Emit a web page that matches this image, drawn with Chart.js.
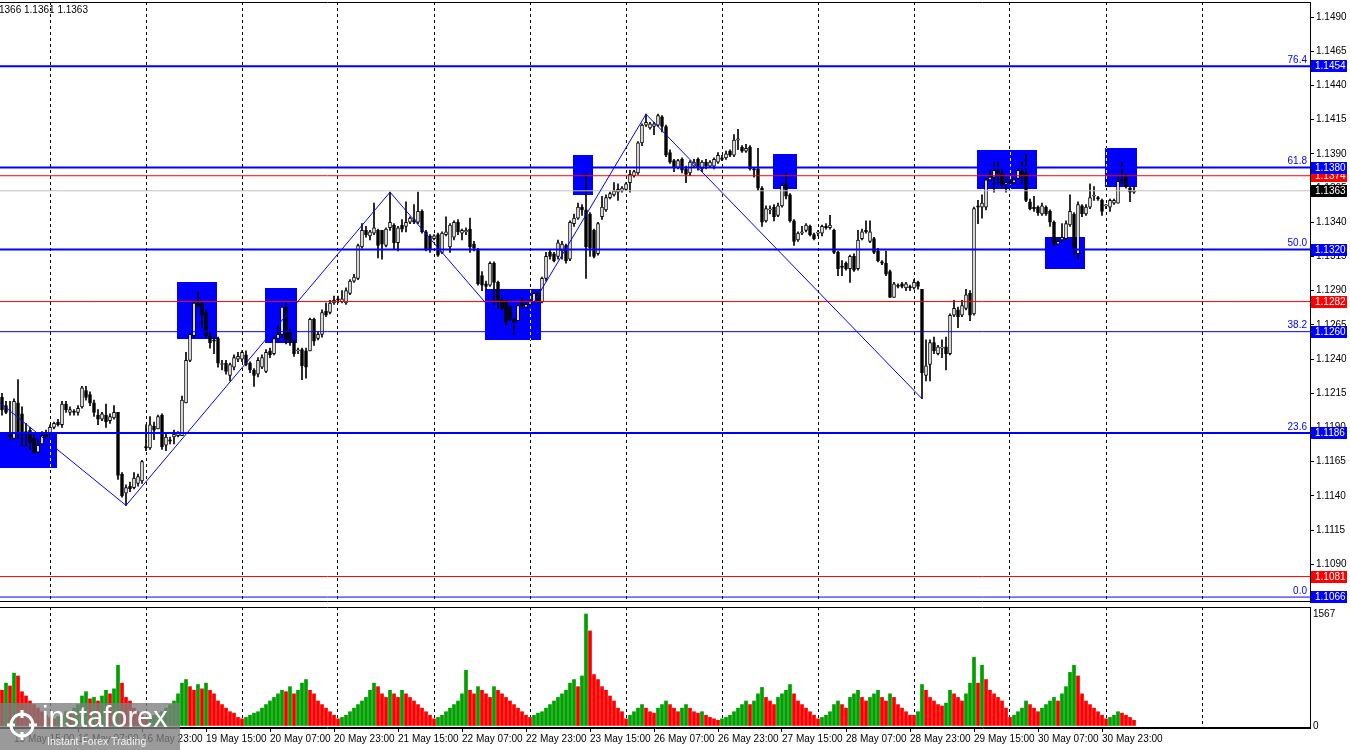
<!DOCTYPE html>
<html><head><meta charset="utf-8">
<script src="https://cdn.jsdelivr.net/npm/chart.js@4.4.1/dist/chart.umd.min.js"></script>
<style>
html,body{margin:0;padding:0;background:#fff;width:1350px;height:750px;overflow:hidden}
#wrap{position:relative;width:1350px;height:750px}
canvas{position:absolute;left:0;top:0}
#hdr{position:absolute;left:-1px;top:4px;font:10px 'Liberation Sans',Arial,sans-serif;color:#000;white-space:nowrap}
#wm{position:absolute;left:0;top:703px;width:180px;height:47px;background:rgba(125,125,125,0.78);overflow:hidden}
#wm .big{position:absolute;left:42px;top:-2px;font:29px 'Liberation Sans',Arial,sans-serif;color:#fff;letter-spacing:0px}
#wm .small{position:absolute;left:47px;top:32px;font:10.5px 'Liberation Sans',Arial,sans-serif;color:#f2f2f2}
#wm svg{position:absolute;left:4px;top:4px}
</style></head>
<body><div id="wrap">
<canvas id="cp" width="1350" height="750"></canvas>
<canvas id="cv" width="1350" height="750"></canvas>
<div id="hdr">1366 1.1361 1.1363</div>
<div id="wm"><svg width="36" height="36" viewBox="0 0 36 36"><g fill="none" stroke="#fff" stroke-width="3"><circle cx="18" cy="18" r="11"/><path d="M18 3v8M18 25v8M3 18h8M25 18h8"/></g></svg><span class="big">instaforex</span><span class="small">Instant Forex Trading</span></div>
</div>
<script>
const open = [1.1212,1.1206,1.1186,1.1182,1.1208,1.1200,1.1187,1.1188,1.1182,1.1172,
1.1178,1.1185,1.1185,1.1190,1.1194,1.1192,1.1207,1.1201,1.1202,1.1201,
1.1205,1.1217,1.1214,1.1208,1.1199,1.1196,1.1199,1.1195,1.1197,1.1201,
1.1156,1.1142,1.1147,1.1146,1.1149,1.1151,1.1176,1.1175,1.1191,1.1189,
1.1199,1.1177,1.1181,1.1183,1.1184,1.1184,1.1208,1.1239,1.1257,1.1281,
1.1281,1.1274,1.1257,1.1254,1.1255,1.1236,1.1237,1.1228,1.1234,1.1240,
1.1240,1.1243,1.1237,1.1232,1.1229,1.1234,1.1231,1.1246,1.1244,1.1255,
1.1258,1.1278,1.1260,1.1253,1.1246,1.1247,1.1246,1.1246,1.1269,1.1255,
1.1258,1.1275,1.1274,1.1281,1.1284,1.1282,1.1281,1.1288,1.1297,1.1299,
1.1322,1.1334,1.1330,1.1332,1.1334,1.1334,1.1323,1.1336,1.1338,1.1325,
1.1338,1.1337,1.1340,1.1342,1.1340,1.1348,1.1333,1.1330,1.1328,1.1331,
1.1318,1.1331,1.1322,1.1329,1.1340,1.1332,1.1333,1.1335,1.1324,1.1320,
1.1301,1.1295,1.1294,1.1310,1.1296,1.1283,1.1283,1.1278,1.1269,1.1268,
1.1281,1.1278,1.1280,1.1282,1.1288,1.1282,1.1299,1.1318,1.1317,1.1315,
1.1319,1.1323,1.1313,1.1339,1.1343,1.1351,1.1349,1.1346,1.1334,1.1317,
1.1344,1.1349,1.1358,1.1360,1.1362,1.1363,1.1364,1.1369,1.1374,1.1376,
1.1398,1.1411,1.1409,1.1410,1.1411,1.1417,1.1410,1.1391,1.1385,1.1380,
1.1386,1.1379,1.1376,1.1381,1.1386,1.1379,1.1384,1.1381,1.1381,1.1384,
1.1387,1.1387,1.1392,1.1389,1.1400,1.1395,1.1392,1.1395,1.1379,1.1379,
1.1365,1.1341,1.1349,1.1351,1.1345,1.1352,1.1368,1.1360,1.1341,1.1327,
1.1332,1.1334,1.1337,1.1331,1.1332,1.1332,1.1337,1.1336,1.1334,1.1318,
1.1308,1.1310,1.1306,1.1315,1.1306,1.1328,1.1334,1.1326,1.1328,1.1319,
1.1311,1.1310,1.1304,1.1285,1.1294,1.1295,1.1292,1.1293,1.1292,1.1296,
1.1291,1.1228,1.1236,1.1252,1.1244,1.1248,1.1249,1.1244,1.1272,1.1276,
1.1272,1.1277,1.1288,1.1273,1.1352,1.1351,1.1351,1.1371,1.1373,1.1378,
1.1376,1.1368,1.1370,1.1369,1.1372,1.1377,1.1376,1.1355,1.1351,1.1351,
1.1346,1.1351,1.1348,1.1340,1.1324,1.1327,1.1328,1.1338,1.1346,1.1317,
1.1352,1.1346,1.1351,1.1359,1.1358,1.1356,1.1352,1.1351,1.1354,1.1354,
1.1371,1.1373,1.1365,1.1362];
const high = [1.1215,1.1209,1.1209,1.1211,1.1225,1.1205,1.1193,1.1190,1.1185,1.1181,
1.1187,1.1188,1.1192,1.1194,1.1196,1.1209,1.1209,1.1205,1.1203,1.1206,
1.1220,1.1220,1.1216,1.1210,1.1203,1.1201,1.1207,1.1200,1.1206,1.1201,
1.1157,1.1148,1.1150,1.1157,1.1156,1.1166,1.1192,1.1198,1.1194,1.1199,
1.1200,1.1185,1.1183,1.1188,1.1187,1.1213,1.1245,1.1259,1.1282,1.1289,
1.1282,1.1276,1.1260,1.1256,1.1256,1.1239,1.1239,1.1237,1.1243,1.1245,
1.1246,1.1246,1.1238,1.1233,1.1241,1.1243,1.1247,1.1248,1.1256,1.1265,
1.1278,1.1281,1.1262,1.1254,1.1248,1.1248,1.1248,1.1270,1.1270,1.1260,
1.1276,1.1281,1.1283,1.1286,1.1286,1.1290,1.1292,1.1298,1.1302,1.1324,
1.1339,1.1337,1.1334,1.1354,1.1335,1.1334,1.1336,1.1362,1.1339,1.1337,
1.1342,1.1355,1.1344,1.1353,1.1362,1.1349,1.1334,1.1331,1.1331,1.1332,
1.1333,1.1344,1.1339,1.1341,1.1342,1.1335,1.1336,1.1343,1.1326,1.1321,
1.1304,1.1297,1.1311,1.1311,1.1297,1.1285,1.1283,1.1279,1.1270,1.1280,
1.1285,1.1282,1.1283,1.1289,1.1289,1.1300,1.1318,1.1320,1.1318,1.1327,
1.1326,1.1324,1.1341,1.1346,1.1354,1.1353,1.1376,1.1347,1.1335,1.1340,
1.1359,1.1360,1.1362,1.1369,1.1368,1.1366,1.1369,1.1378,1.1378,1.1399,
1.1412,1.1419,1.1413,1.1413,1.1419,1.1418,1.1411,1.1393,1.1386,1.1386,
1.1387,1.1381,1.1385,1.1386,1.1387,1.1385,1.1386,1.1385,1.1387,1.1391,
1.1389,1.1392,1.1393,1.1404,1.1408,1.1396,1.1397,1.1396,1.1380,1.1394,
1.1366,1.1352,1.1352,1.1353,1.1354,1.1368,1.1376,1.1361,1.1342,1.1333,
1.1337,1.1339,1.1338,1.1332,1.1334,1.1338,1.1339,1.1345,1.1335,1.1319,
1.1312,1.1311,1.1316,1.1317,1.1334,1.1335,1.1341,1.1341,1.1329,1.1321,
1.1312,1.1319,1.1305,1.1296,1.1295,1.1296,1.1296,1.1294,1.1298,1.1297,
1.1291,1.1254,1.1254,1.1256,1.1250,1.1254,1.1256,1.1273,1.1283,1.1278,
1.1283,1.1291,1.1290,1.1351,1.1356,1.1360,1.1372,1.1378,1.1384,1.1384,
1.1379,1.1373,1.1371,1.1372,1.1379,1.1384,1.1390,1.1357,1.1359,1.1352,
1.1354,1.1352,1.1349,1.1341,1.1328,1.1339,1.1341,1.1360,1.1347,1.1355,
1.1353,1.1353,1.1368,1.1366,1.1359,1.1357,1.1353,1.1357,1.1357,1.1373,
1.1384,1.1375,1.1366,1.1366];
const low = [1.1199,1.1200,1.1181,1.1181,1.1182,1.1176,1.1176,1.1174,1.1171,1.1171,
1.1177,1.1182,1.1183,1.1189,1.1191,1.1190,1.1201,1.1199,1.1199,1.1199,
1.1204,1.1210,1.1206,1.1198,1.1192,1.1195,1.1190,1.1193,1.1196,1.1152,
1.1139,1.1133,1.1143,1.1145,1.1147,1.1149,1.1173,1.1174,1.1181,1.1189,
1.1174,1.1173,1.1178,1.1178,1.1183,1.1184,1.1208,1.1238,1.1256,1.1278,
1.1263,1.1256,1.1248,1.1244,1.1234,1.1232,1.1229,1.1224,1.1232,1.1238,
1.1238,1.1235,1.1230,1.1220,1.1227,1.1233,1.1230,1.1241,1.1243,1.1253,
1.1256,1.1251,1.1250,1.1242,1.1244,1.1225,1.1226,1.1246,1.1250,1.1254,
1.1256,1.1271,1.1273,1.1280,1.1281,1.1281,1.1280,1.1287,1.1296,1.1298,
1.1321,1.1329,1.1327,1.1331,1.1314,1.1313,1.1322,1.1334,1.1320,1.1319,
1.1333,1.1333,1.1339,1.1339,1.1339,1.1332,1.1319,1.1318,1.1327,1.1315,
1.1317,1.1330,1.1318,1.1327,1.1331,1.1327,1.1331,1.1318,1.1319,1.1294,
1.1290,1.1291,1.1293,1.1280,1.1277,1.1276,1.1263,1.1268,1.1257,1.1268,
1.1278,1.1277,1.1279,1.1281,1.1281,1.1281,1.1297,1.1313,1.1311,1.1313,
1.1313,1.1310,1.1312,1.1337,1.1342,1.1345,1.1299,1.1315,1.1314,1.1316,
1.1342,1.1348,1.1357,1.1359,1.1356,1.1362,1.1363,1.1362,1.1373,1.1375,
1.1396,1.1410,1.1408,1.1404,1.1410,1.1406,1.1388,1.1383,1.1377,1.1379,
1.1376,1.1369,1.1374,1.1380,1.1378,1.1377,1.1379,1.1380,1.1379,1.1383,
1.1385,1.1386,1.1388,1.1388,1.1393,1.1391,1.1391,1.1378,1.1373,1.1363,
1.1337,1.1340,1.1346,1.1341,1.1344,1.1351,1.1357,1.1340,1.1323,1.1326,
1.1331,1.1333,1.1330,1.1327,1.1330,1.1330,1.1335,1.1335,1.1317,1.1301,
1.1301,1.1305,1.1296,1.1304,1.1305,1.1327,1.1332,1.1325,1.1317,1.1311,
1.1309,1.1301,1.1285,1.1285,1.1292,1.1292,1.1290,1.1290,1.1291,1.1291,
1.1211,1.1224,1.1224,1.1244,1.1243,1.1241,1.1232,1.1243,1.1271,1.1263,
1.1271,1.1276,1.1268,1.1272,1.1339,1.1343,1.1349,1.1370,1.1362,1.1368,
1.1366,1.1362,1.1368,1.1368,1.1371,1.1368,1.1355,1.1349,1.1348,1.1345,
1.1345,1.1345,1.1337,1.1323,1.1323,1.1326,1.1327,1.1337,1.1316,1.1313,
1.1344,1.1345,1.1350,1.1356,1.1356,1.1345,1.1350,1.1348,1.1353,1.1354,
1.1368,1.1365,1.1355,1.1361];
const close = [1.1203,1.1201,1.1183,1.1209,1.1187,1.1187,1.1185,1.1179,1.1172,1.1177,
1.1184,1.1183,1.1190,1.1193,1.1192,1.1207,1.1203,1.1203,1.1201,1.1204,
1.1219,1.1212,1.1208,1.1201,1.1196,1.1200,1.1194,1.1198,1.1201,1.1155,
1.1140,1.1146,1.1145,1.1153,1.1154,1.1165,1.1175,1.1192,1.1188,1.1198,
1.1176,1.1183,1.1180,1.1185,1.1186,1.1210,1.1239,1.1258,1.1281,1.1279,
1.1272,1.1257,1.1252,1.1253,1.1237,1.1236,1.1231,1.1236,1.1241,1.1242,
1.1245,1.1236,1.1232,1.1228,1.1239,1.1241,1.1245,1.1243,1.1255,1.1258,
1.1278,1.1254,1.1253,1.1244,1.1246,1.1235,1.1234,1.1269,1.1253,1.1258,
1.1274,1.1272,1.1281,1.1283,1.1283,1.1284,1.1290,1.1297,1.1300,1.1323,
1.1334,1.1331,1.1333,1.1336,1.1323,1.1324,1.1335,1.1340,1.1325,1.1336,
1.1335,1.1340,1.1343,1.1340,1.1348,1.1333,1.1320,1.1320,1.1330,1.1316,
1.1332,1.1333,1.1338,1.1340,1.1333,1.1334,1.1334,1.1322,1.1321,1.1295,
1.1294,1.1293,1.1310,1.1296,1.1283,1.1277,1.1267,1.1269,1.1267,1.1279,
1.1279,1.1280,1.1282,1.1288,1.1282,1.1299,1.1315,1.1315,1.1312,1.1325,
1.1324,1.1312,1.1340,1.1343,1.1351,1.1349,1.1322,1.1321,1.1315,1.1339,
1.1351,1.1358,1.1361,1.1363,1.1364,1.1365,1.1368,1.1375,1.1377,1.1398,
1.1411,1.1413,1.1412,1.1412,1.1418,1.1410,1.1389,1.1384,1.1380,1.1385,
1.1378,1.1375,1.1384,1.1384,1.1380,1.1384,1.1381,1.1384,1.1386,1.1389,
1.1386,1.1390,1.1389,1.1400,1.1401,1.1392,1.1394,1.1379,1.1378,1.1365,
1.1340,1.1350,1.1349,1.1344,1.1352,1.1367,1.1359,1.1341,1.1326,1.1332,
1.1333,1.1338,1.1331,1.1328,1.1332,1.1337,1.1336,1.1338,1.1318,1.1306,
1.1307,1.1306,1.1315,1.1305,1.1327,1.1333,1.1333,1.1333,1.1318,1.1312,
1.1310,1.1302,1.1285,1.1295,1.1293,1.1293,1.1295,1.1292,1.1296,1.1293,
1.1230,1.1235,1.1252,1.1246,1.1249,1.1248,1.1244,1.1272,1.1277,1.1271,
1.1279,1.1287,1.1272,1.1350,1.1351,1.1354,1.1371,1.1373,1.1378,1.1376,
1.1367,1.1368,1.1369,1.1371,1.1378,1.1374,1.1356,1.1350,1.1350,1.1347,
1.1352,1.1346,1.1340,1.1324,1.1326,1.1329,1.1339,1.1348,1.1320,1.1353,
1.1346,1.1351,1.1358,1.1359,1.1357,1.1348,1.1352,1.1356,1.1356,1.1370,
1.1370,1.1366,1.1362,1.1363];
const volume = [500,600,560,740,700,480,420,350,300,250,200,150,
120,100,130,150,200,180,250,300,420,480,380,400,350,420,500,450,520,850,600,400,350,250,200,150,
100,120,150,180,200,250,300,350,450,600,650,550,500,580,520,600,500,450,350,300,250,200,180,120,
100,120,150,180,200,250,300,350,400,450,500,480,550,450,500,600,650,500,450,350,300,250,200,150,
100,120,150,200,250,300,350,400,500,600,550,450,400,500,450,400,500,450,400,350,300,250,200,150,
100,120,150,200,250,300,350,450,780,500,450,550,500,450,400,550,500,450,400,350,300,250,200,150,
120,150,180,200,250,300,350,400,450,500,600,650,550,700,1567,1330,720,650,550,500,420,350,250,200,
100,150,200,250,300,250,200,180,250,300,350,300,250,200,250,300,250,200,180,200,150,120,100,80,
100,120,150,200,250,300,350,300,350,450,540,400,350,300,400,450,500,580,450,350,300,250,200,150,
100,120,150,200,300,350,300,250,400,450,500,400,350,400,450,500,400,350,450,400,300,250,200,150,
150,200,580,500,400,350,300,280,320,500,450,400,350,450,600,960,600,850,650,500,450,400,350,250,
120,150,200,250,350,300,250,200,250,300,350,400,350,450,550,750,850,700,450,350,300,250,200,150,
100,120,150,200,180,150,120,80];

const tickIdx = [3,19,35,51,67,83,99,115,131,147,163,179,195,211,227,243,259,275];
const tickText = ['15 May 15:00','16 May 07:00','16 May 23:00','19 May 15:00','20 May 07:00','20 May 23:00','21 May 15:00','22 May 07:00','22 May 23:00','23 May 15:00','26 May 07:00','26 May 23:00','27 May 15:00','28 May 07:00','28 May 23:00','29 May 15:00','30 May 07:00','30 May 23:00'];
const gridIdx = [12,36,60,84,108,132,156,180,204,228,252,276,300];
const priceTicks = [1.1065,1.1090,1.1115,1.1140,1.1165,1.1190,1.1215,1.1240,1.1265,1.1290,1.1315,1.1340,1.1365,1.1390,1.1415,1.1440,1.1465,1.1490];
const volTicks = [0,1567];

const hLineVals = [1.1454,1.1380,1.1374,1.1363,1.1320,1.1282,1.1260,1.1186,1.1081,1.1066];
const hLineColors = ['#0000ff','#0000ff','#ff0000','#c0c0c0','#0000ff','#ff0000','#0000ff','#0000ff','#ff0000','#0000ff'];
const hLineWidths = [2,2,1,1,2,1,1,2,1,1];

const boxVals = [1.1374,1.1282,1.1081,1.1363,1.1454,1.1380,1.1320,1.1260,1.1186,1.1066];
const boxColors = ['#ff0000','#ff0000','#ff0000','#000000','#0000ff','#0000ff','#0000ff','#0000ff','#0000ff','#0000ff'];

const fibVals = [1.1454,1.1380,1.1320,1.1260,1.1186,1.1066];
const fibText = ['76.4','61.8','50.0','38.2','23.6','0.0'];

const zigX = [-0.5,31,97,128,161,230];
const zigY = [1.1208,1.1133,1.1362,1.1257,1.1419,1.1211];

const rectX0 = [-0.5,43.75,65.75,120.75,142.75,192.75,243.75,260.75,275.75];
const rectX1 = [13.75,53.75,73.75,134.75,147.75,198.75,258.75,270.75,283.75];
const rectTop = [1.1187,1.1296,1.1292,1.1291,1.1389,1.1390,1.1393,1.1329,1.1394];
const rectBot = [1.1160,1.1255,1.1252,1.1254,1.1360,1.1364,1.1364,1.1306,1.1366];

const XMIN = -0.5, XMAX = 327;
const FAM = "'Liberation Sans', Arial, sans-serif";
Chart.defaults.font.family = FAM;
Chart.defaults.font.size = 10;
Chart.defaults.color = '#000';

const wickData = close.map((c,i)=>({x:i, y:[low[i], high[i]]}));
const bodyData = close.map((c,i)=>({x:i, y:[Math.min(open[i],c), Math.max(open[i],c)]}));
const bodyFill = close.map((c,i)=> c >= open[i] ? '#ffffff' : '#000000');

const hLineSets = hLineVals.map((v,k)=>({
  type:'line', data:[{x:XMIN,y:v},{x:XMAX,y:v}], borderColor:hLineColors[k], borderWidth:hLineWidths[k],
  pointRadius:0, order:2
}));

const rectPlugin = {
  id:'rects',
  beforeDatasetsDraw(chart){
    const {ctx, chartArea:a, scales:{x,y}} = chart;
    ctx.save();
    ctx.beginPath(); ctx.rect(a.left,a.top,a.right-a.left,a.bottom-a.top); ctx.clip();
    for (let k=0;k<rectX0.length;k++){
      const x0=Math.round(x.getPixelForValue(rectX0[k])), x1=Math.round(x.getPixelForValue(rectX1[k]));
      const y0=Math.round(y.getPixelForValue(rectTop[k])), y1=Math.round(y.getPixelForValue(rectBot[k]));
      ctx.fillStyle='#0000ff'; ctx.fillRect(x0,y0,x1-x0,y1-y0);
      for (const g of gridIdx){
        const gx=Math.round(x.getPixelForValue(g))+0.5;
        if(gx>x0&&gx<x1){
          ctx.save(); ctx.beginPath(); ctx.rect(x0,y0,x1-x0,y1-y0); ctx.clip();
          ctx.strokeStyle='#ffff00'; ctx.lineWidth=1; ctx.setLineDash([3,3]);
          ctx.beginPath(); ctx.moveTo(gx,a.top); ctx.lineTo(gx,a.bottom); ctx.stroke();
          ctx.restore();
        }
      }
    }
    ctx.restore();
  }
};

const framePlugin = {
  id:'frame',
  afterDraw(chart){
    const {ctx, chartArea:a} = chart;
    ctx.save(); ctx.strokeStyle='#000'; ctx.lineWidth=1;
    ctx.beginPath(); ctx.moveTo(0, a.top+0.5); ctx.lineTo(a.right, a.top+0.5);
    ctx.moveTo(0, a.bottom-0.5); ctx.lineTo(a.right, a.bottom-0.5); ctx.stroke();
    ctx.restore();
  }
};

const boxPlugin = {
  id:'boxes',
  afterDraw(chart){
    const {ctx, scales:{y}, chartArea:a} = chart;
    ctx.save();
    ctx.font = "10px " + FAM;
    ctx.fillStyle = '#0000ff'; ctx.textAlign='right'; ctx.textBaseline='bottom';
    fibVals.forEach((v,k)=>{ const py=y.getPixelForValue(v); ctx.fillText(fibText[k], a.right-3, py-1); });
    ctx.textAlign='left'; ctx.textBaseline='middle';
    boxVals.forEach((v,k)=>{
      const py=Math.round(y.getPixelForValue(v));
      ctx.fillStyle=boxColors[k]; ctx.fillRect(a.right+1, py-6, 36, 12);
      ctx.fillStyle='#ffffff'; ctx.fillText(v.toFixed(4), a.right+5, py+0.5);
    });
    ctx.restore();
  }
};

const noPad = s => { s.paddingLeft = 0; s.paddingRight = 0; s.paddingTop = 0; s.paddingBottom = 0; };

new Chart(document.getElementById('cp'), {
  type:'bar',
  data:{ datasets:[
    {type:'bar', data:wickData, backgroundColor:'#000', barThickness:1, grouped:false, order:4},
    {type:'bar', data:bodyData, backgroundColor:bodyFill, borderColor:'#000', borderWidth:1, borderSkipped:false, barThickness:3, minBarLength:1, grouped:false, order:3},
    ...hLineSets,
    {type:'line', data:zigX.map((v,k)=>({x:v,y:zigY[k]})), borderColor:'#0000ff', borderWidth:1, pointRadius:0, tension:0, order:1}
  ]},
  options:{
    responsive:false, animation:false, devicePixelRatio:1,
    layout:{padding:{top:2,bottom:148,left:0,right:0}, autoPadding:false},
    plugins:{legend:{display:false}, tooltip:{enabled:false}},
    scales:{
      x:{type:'linear', min:XMIN, max:XMAX, position:'bottom', offset:false,
        afterBuildTicks:s=>{s.ticks=gridIdx.map(v=>({value:v}));},
        afterFit:s=>{s.height=0; noPad(s);},
        ticks:{display:false},
        grid:{color:'#000', lineWidth:1, drawTicks:false, offset:false},
        border:{display:false, dash:[3,3]}},
      y:{type:'linear', position:'right', min:1.10624, max:1.15010, beginAtZero:false,
        afterBuildTicks:s=>{s.ticks=priceTicks.map(v=>({value:v}));},
        afterFit:s=>{s.width=40; noPad(s);},
        ticks:{padding:2, color:'#000', font:{size:10}, callback:v=>Number(v).toFixed(4)},
        grid:{drawOnChartArea:false, drawTicks:true, tickLength:4, color:'#000'},
        border:{display:true, color:'#000'}}
    }
  },
  plugins:[rectPlugin, framePlugin, boxPlugin]
});

const volColors = volume.map((v,i)=> (i>0 && v>volume[i-1]) ? '#00a000' : '#ff0000');

new Chart(document.getElementById('cv'), {
  type:'bar',
  data:{ datasets:[
    {type:'bar', data:volume.map((v,i)=>({x:i,y:v})), backgroundColor:volColors, barThickness:3, grouped:false, xAxisID:'x', yAxisID:'y'}
  ]},
  options:{
    responsive:false, animation:false, devicePixelRatio:1,
    layout:{padding:{top:607,bottom:0,left:0,right:0}, autoPadding:false},
    plugins:{legend:{display:false}, tooltip:{enabled:false}},
    scales:{
      x:{type:'linear', min:XMIN, max:XMAX, position:'bottom', offset:false,
        afterBuildTicks:s=>{s.ticks=tickIdx.map(v=>({value:v}));},
        afterFit:s=>{s.height=22; noPad(s);},
        ticks:{autoSkip:false, maxRotation:0, minRotation:0, align:'start', padding:1, color:'#000', font:{size:10},
          callback:v=>{const k=tickIdx.indexOf(v); return k>=0?tickText[k]:'';}},
        grid:{drawOnChartArea:false, drawTicks:true, tickLength:4, color:'#000', offset:false},
        border:{display:true, color:'#000'}},
      xg:{type:'linear', min:XMIN, max:XMAX, position:'bottom', offset:false,
        afterBuildTicks:s=>{s.ticks=gridIdx.map(v=>({value:v}));},
        afterFit:s=>{s.height=0; noPad(s);},
        ticks:{display:false},
        grid:{color:'#000', lineWidth:1, drawTicks:false, offset:false},
        border:{display:false, dash:[3,3]}},
      y:{type:'linear', position:'right', min:-28, max:1665,
        afterBuildTicks:s=>{s.ticks=volTicks.map(v=>({value:v}));},
        afterFit:s=>{s.width=40; noPad(s);},
        ticks:{padding:3, color:'#000', font:{size:10}, callback:v=>String(v)},
        grid:{drawOnChartArea:false, drawTicks:false},
        border:{display:true, color:'#000'}}
    }
  },
  plugins:[framePlugin]
});
</script>
</body></html>
